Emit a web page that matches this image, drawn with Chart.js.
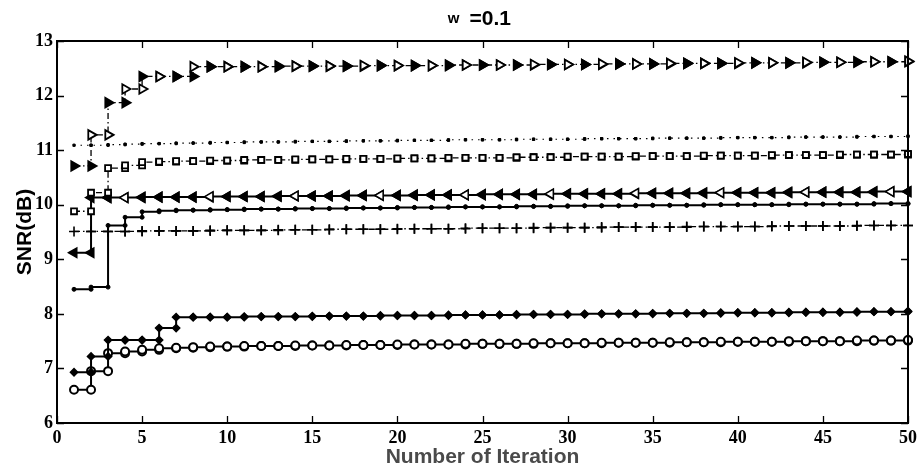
<!DOCTYPE html>
<html>
<head>
<meta charset="utf-8">
<script src="https://cdn.jsdelivr.net/npm/chart.js@4.4.1/dist/chart.umd.min.js"></script>
<style>
  html, body { margin: 0; padding: 0; background: #fff; }
  #wrap { width: 924px; height: 475px; }
</style>
</head>
<body>
<div id="wrap"><canvas id="c" width="924" height="475"></canvas></div>
<script>
// Iteration index (x axis)
const iterations = [1,2,3,4,5,6,7,8,9,10,11,12,13,14,15,16,17,18,19,20,
  21,22,23,24,25,26,27,28,29,30,31,32,33,34,35,36,37,38,39,40,
  41,42,43,44,45,46,47,48,49,50];

// SNR (dB) per iteration for each curve
const snrTriRight = [10.71,11.28,11.87,12.12,12.35,12.35,12.35,12.53,12.53,12.53,
  12.53,12.53,12.54,12.54,12.54,12.54,12.54,12.55,12.55,12.55,
  12.55,12.55,12.56,12.56,12.56,12.56,12.56,12.57,12.57,12.57,
  12.57,12.58,12.58,12.58,12.58,12.59,12.59,12.59,12.59,12.60,
  12.60,12.60,12.60,12.61,12.61,12.61,12.62,12.62,12.62,12.63];
const snrDots = [11.09,11.09,11.10,11.11,11.12,11.12,11.13,11.13,11.14,11.14,
  11.15,11.15,11.15,11.16,11.16,11.16,11.17,11.17,11.17,11.18,
  11.18,11.18,11.19,11.19,11.19,11.19,11.20,11.20,11.20,11.20,
  11.21,11.21,11.21,11.21,11.22,11.22,11.22,11.22,11.23,11.23,
  11.23,11.23,11.24,11.24,11.24,11.24,11.25,11.25,11.25,11.26];
const snrSquare = [9.88,10.22,10.67,10.72,10.78,10.79,10.80,10.80,10.81,10.81,
  10.82,10.82,10.82,10.83,10.83,10.83,10.84,10.84,10.84,10.85,
  10.85,10.85,10.86,10.86,10.86,10.86,10.87,10.87,10.87,10.88,
  10.88,10.88,10.88,10.89,10.89,10.89,10.89,10.90,10.90,10.90,
  10.90,10.91,10.91,10.91,10.91,10.92,10.92,10.92,10.92,10.93];
const snrTriLeft = [9.12,10.13,10.13,10.13,10.14,10.14,10.14,10.14,10.15,10.15,
  10.15,10.15,10.16,10.16,10.16,10.16,10.17,10.17,10.17,10.17,
  10.18,10.18,10.18,10.18,10.19,10.19,10.19,10.19,10.20,10.20,
  10.20,10.20,10.20,10.21,10.21,10.21,10.21,10.22,10.22,10.22,
  10.22,10.22,10.23,10.23,10.23,10.23,10.23,10.24,10.24,10.24];
const snrPoint = [8.45,8.49,9.62,9.77,9.87,9.89,9.90,9.90,9.91,9.91,
  9.92,9.92,9.92,9.93,9.93,9.93,9.94,9.94,9.94,9.95,
  9.95,9.95,9.96,9.96,9.96,9.96,9.97,9.97,9.97,9.98,
  9.98,9.98,9.98,9.99,9.99,9.99,9.99,10.00,10.00,10.00,
  10.00,10.00,10.01,10.01,10.01,10.01,10.01,10.02,10.02,10.02];
const snrPlus = [9.51,9.51,9.51,9.51,9.52,9.52,9.52,9.52,9.53,9.53,
  9.53,9.53,9.54,9.54,9.54,9.55,9.55,9.55,9.55,9.56,
  9.56,9.56,9.56,9.57,9.57,9.57,9.57,9.58,9.58,9.58,
  9.58,9.59,9.59,9.59,9.59,9.59,9.60,9.60,9.60,9.60,
  9.60,9.61,9.61,9.61,9.61,9.61,9.62,9.62,9.62,9.62];
const snrDiamond = [6.93,7.22,7.52,7.52,7.52,7.74,7.94,7.94,7.94,7.94,
  7.95,7.95,7.95,7.95,7.96,7.96,7.96,7.96,7.97,7.97,
  7.97,7.97,7.98,7.98,7.98,7.98,7.99,7.99,7.99,7.99,
  8.00,8.00,8.00,8.00,8.01,8.01,8.01,8.01,8.02,8.02,
  8.02,8.02,8.03,8.03,8.03,8.03,8.04,8.04,8.04,8.05];
const snrCircle = [6.61,6.95,7.28,7.31,7.34,7.37,7.38,7.39,7.40,7.40,
  7.41,7.41,7.41,7.42,7.42,7.42,7.43,7.43,7.43,7.44,
  7.44,7.44,7.44,7.45,7.45,7.45,7.45,7.46,7.46,7.46,
  7.46,7.47,7.47,7.47,7.47,7.48,7.48,7.48,7.49,7.49,
  7.49,7.49,7.50,7.50,7.50,7.50,7.51,7.51,7.51,7.52];

// Axis ticks
const xTicks = [0,5,10,15,20,25,30,35,40,45,50];
const yTicks = [6,7,8,9,10,11,12,13];

// Staircase: each value holds from its iteration to the next one,
// with a marker at both ends of every horizontal run.
function stairs(vals) {
  const pts = [];
  vals.forEach((v, i) => {
    pts.push({ x: iterations[i], y: v });
    if (i < vals.length - 1) pts.push({ x: iterations[i + 1], y: v });
  });
  return pts;
}

const DASHDOT = [6, 3, 1.5, 3];
const SERIF = 'Liberation Serif, Times New Roman, serif';
const SANS = '"Liberation Sans", Arial, sans-serif';
const base = { borderColor: '#000', pointBorderColor: '#000', clip: false, tension: 0 };

const datasets = [
  Object.assign({}, base, {
    data: stairs(snrTriRight), borderWidth: 1.3, borderDash: DASHDOT,
    pointStyle: 'triangle', rotation: 90, pointRadius: 5.5, pointBorderWidth: 1.8,
    pointBackgroundColor: ctx => ((ctx.dataIndex >> 1) % 2 ? '#fff' : '#000')
  }),
  Object.assign({}, base, {
    data: stairs(snrDots), borderWidth: 1.2, borderDash: [1.5, 5],
    pointStyle: 'rect', pointRadius: 1.6, pointBorderWidth: 1, pointBackgroundColor: '#000'
  }),
  Object.assign({}, base, {
    data: stairs(snrSquare), borderWidth: 1.3, borderDash: DASHDOT,
    pointStyle: 'rect', pointRadius: 4.2, pointBorderWidth: 1.8, pointBackgroundColor: '#fff'
  }),
  Object.assign({}, base, {
    data: stairs(snrTriLeft), borderWidth: 2,
    pointStyle: 'triangle', rotation: -90, pointRadius: 5.5, pointBorderWidth: 1.5,
    pointBackgroundColor: ctx => ((ctx.dataIndex >> 1) % 5 === 3 ? '#fff' : '#000')
  }),
  Object.assign({}, base, {
    data: stairs(snrPoint), borderWidth: 2,
    pointStyle: 'circle', pointRadius: 2, pointBorderWidth: 1, pointBackgroundColor: '#000'
  }),
  Object.assign({}, base, {
    data: stairs(snrPlus), borderWidth: 1.3, borderDash: DASHDOT,
    pointStyle: 'cross', pointRadius: 5, pointBorderWidth: 1.6, pointBackgroundColor: '#000'
  }),
  Object.assign({}, base, {
    data: stairs(snrDiamond), borderWidth: 2,
    pointStyle: 'rectRot', pointRadius: 3.6, pointBorderWidth: 1.5, pointBackgroundColor: '#000'
  }),
  Object.assign({}, base, {
    data: stairs(snrCircle), borderWidth: 2,
    pointStyle: 'circle', pointRadius: 4, pointBorderWidth: 2, pointBackgroundColor: '#fff'
  })
];

// Frame, inward tick marks and the text labels around the plot
const framePlugin = {
  id: 'frame',
  afterDraw(chart) {
    const { ctx, chartArea: a, scales } = chart;
    const L = 7;
    ctx.save();
    ctx.strokeStyle = '#000';
    ctx.lineWidth = 1.3;
    ctx.beginPath();
    xTicks.forEach(t => {
      const px = Math.round(scales.x.getPixelForValue(t)) + 0.5;
      ctx.moveTo(px, a.bottom); ctx.lineTo(px, a.bottom - L);
      ctx.moveTo(px, a.top); ctx.lineTo(px, a.top + L);
    });
    yTicks.forEach(t => {
      const py = Math.round(scales.y.getPixelForValue(t)) + 0.5;
      ctx.moveTo(a.left, py); ctx.lineTo(a.left + L, py);
      ctx.moveTo(a.right, py); ctx.lineTo(a.right - L, py);
    });
    ctx.stroke();
    ctx.lineWidth = 2;
    ctx.strokeRect(a.left, a.top, a.right - a.left, a.bottom - a.top);

    const cx = (a.left + a.right) / 2;
    ctx.fillStyle = '#000';
    ctx.textBaseline = 'alphabetic';
    ctx.textAlign = 'center';
    ctx.font = 'bold 15px ' + SANS;
    ctx.fillText('w', cx - 29, 23);
    ctx.textAlign = 'left';
    ctx.font = 'bold 21px ' + SANS;
    ctx.fillText('=0.1', cx - 13, 25);

    ctx.textAlign = 'center';
    ctx.fillStyle = '#4a4a4a';
    ctx.font = 'bold 21px ' + SANS;
    ctx.fillText('Number of Iteration', cx, 463);

    ctx.fillStyle = '#000';
    ctx.translate(31, (a.top + a.bottom) / 2);
    ctx.rotate(-Math.PI / 2);
    ctx.font = 'bold 21px ' + SANS;
    ctx.fillText('SNR(dB)', 0, 0);
    ctx.restore();
  }
};

new Chart(document.getElementById('c'), {
  type: 'line',
  data: { datasets },
  options: {
    responsive: false,
    animation: false,
    events: [],
    layout: { padding: { top: 41, right: 16, left: 0, bottom: 0 }, autoPadding: false },
    plugins: { legend: { display: false }, tooltip: { enabled: false }, title: { display: false } },
    scales: {
      x: {
        type: 'linear', min: 0, max: 50,
        afterBuildTicks: s => { s.ticks = xTicks.map(v => ({ value: v })); },
        afterFit: s => { s.height = 52; },
        grid: { display: false, drawTicks: false },
        border: { display: false },
        ticks: { padding: 5, color: '#000', maxRotation: 0,
          font: { family: SERIF, size: 18, weight: 'bold' } }
      },
      y: {
        type: 'linear', min: 6, max: 13,
        afterBuildTicks: s => { s.ticks = yTicks.map(v => ({ value: v })); },
        afterFit: s => { s.width = 57; },
        grid: { display: false, drawTicks: false },
        border: { display: false },
        ticks: { padding: 4, color: '#000',
          font: { family: SERIF, size: 18, weight: 'bold' } }
      }
    }
  },
  plugins: [framePlugin]
});
</script>
</body>
</html>
